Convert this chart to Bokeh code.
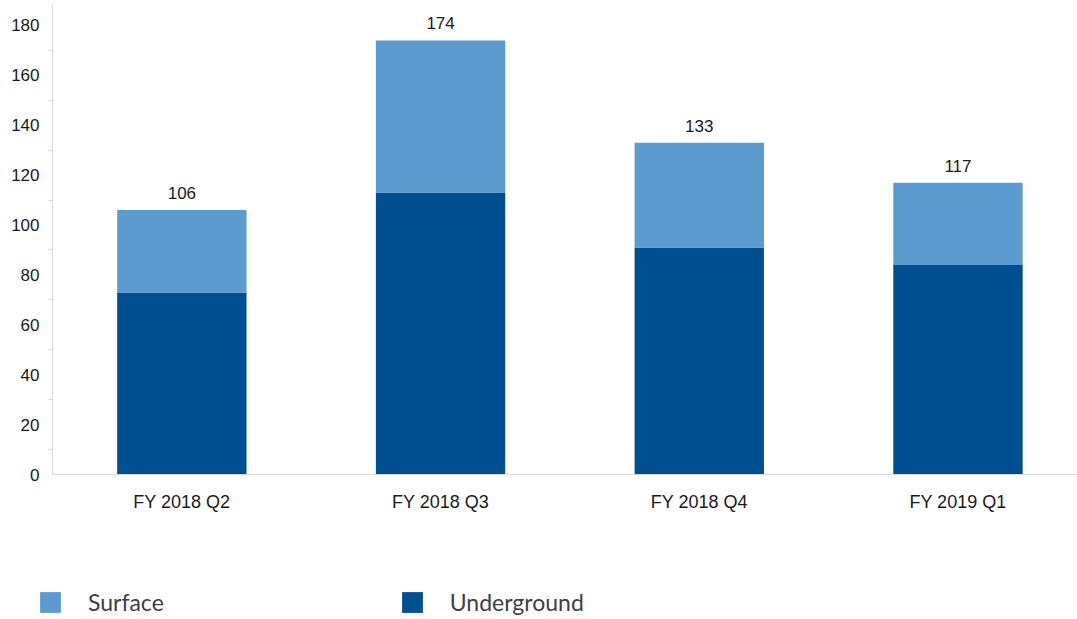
from bokeh.plotting import figure
from bokeh.models import Range1d, FixedTicker, Legend, LegendItem, ColumnDataSource
from bokeh.core.properties import value
from bokeh.embed import file_html
from bokeh.resources import INLINE

quarters = ["FY 2018 Q2", "FY 2018 Q3", "FY 2018 Q4", "FY 2019 Q1"]
underground = [73, 113, 91, 84]
surface = [33, 61, 42, 33]
totals = [106, 174, 133, 117]
y_ticks = [0, 20, 40, 60, 80, 100, 120, 140, 160, 180]

x_idx = list(range(len(quarters)))
src = ColumnDataSource(dict(x=x_idx, Underground=underground, Surface=surface,
                            total=totals, lbl=[str(t) for t in totals]))

p = figure(width=1077, height=619, output_backend="svg", toolbar_location=None,
           x_range=Range1d(-0.701, 3.462), y_range=Range1d(-58.1, 190),
           min_border_left=0, min_border_right=0, min_border_top=0, min_border_bottom=0)
p.outline_line_color = None
p.xgrid.grid_line_color = None
p.ygrid.grid_line_color = None

LIGHT = "#5b9bcf"
DARK = "#004f91"
rs = p.vbar_stack(["Underground", "Surface"], x="x", width=0.5, source=src,
                  color=[DARK, LIGHT], line_color=None)

p.text(x="x", y="total", text="lbl", source=src, y_offset=-11,
       text_align="center", text_baseline="bottom",
       text_font=value("Liberation Sans"), text_font_size="17px", text_color="#1a1a1a")

p.yaxis.fixed_location = -0.5
p.yaxis.bounds = (0, 188)
p.yaxis.ticker = FixedTicker(ticks=y_ticks, minor_ticks=list(range(10, 190, 20)))
p.yaxis.axis_line_color = "#d9d9d9"
p.yaxis.major_tick_line_color = None
p.yaxis.major_tick_out = 0
p.yaxis.major_tick_in = 0
p.yaxis.minor_tick_line_color = "#d9d9d9"
p.yaxis.minor_tick_out = 4
p.yaxis.minor_tick_in = 0
p.yaxis.major_label_text_font = "Liberation Sans"
p.yaxis.major_label_text_font_size = "17px"
p.yaxis.major_label_text_color = "#1a1a1a"
p.yaxis.major_label_standoff = 9

p.xaxis.fixed_location = 0
p.xaxis.bounds = (-0.5, 3.462)
p.xaxis.ticker = FixedTicker(ticks=x_idx)
p.xaxis.major_label_overrides = {i: q for i, q in enumerate(quarters)}
p.xaxis.axis_line_color = "#d9d9d9"
p.xaxis.major_tick_line_color = None
p.xaxis.major_tick_out = 0
p.xaxis.major_tick_in = 0
p.xaxis.minor_tick_line_color = None
p.xaxis.major_label_text_font = "Liberation Sans"
p.xaxis.major_label_text_font_size = "18px"
p.xaxis.major_label_text_color = "#1a1a1a"
p.xaxis.major_label_standoff = 17

legend = Legend(items=[LegendItem(label="Surface", renderers=[rs[1]]),
                       LegendItem(label="Underground", renderers=[rs[0]])],
                location=(37, 3), orientation="horizontal",
                glyph_width=26, glyph_height=26, label_height=26,
                label_standoff=25, spacing=235, padding=0, margin=0,
                border_line_color=None, background_fill_alpha=0,
                label_text_font="Lato", label_text_font_size="23px",
                label_text_color="#404040")
p.add_layout(legend, "center")

open("out.html", "w").write(file_html(p, INLINE))
